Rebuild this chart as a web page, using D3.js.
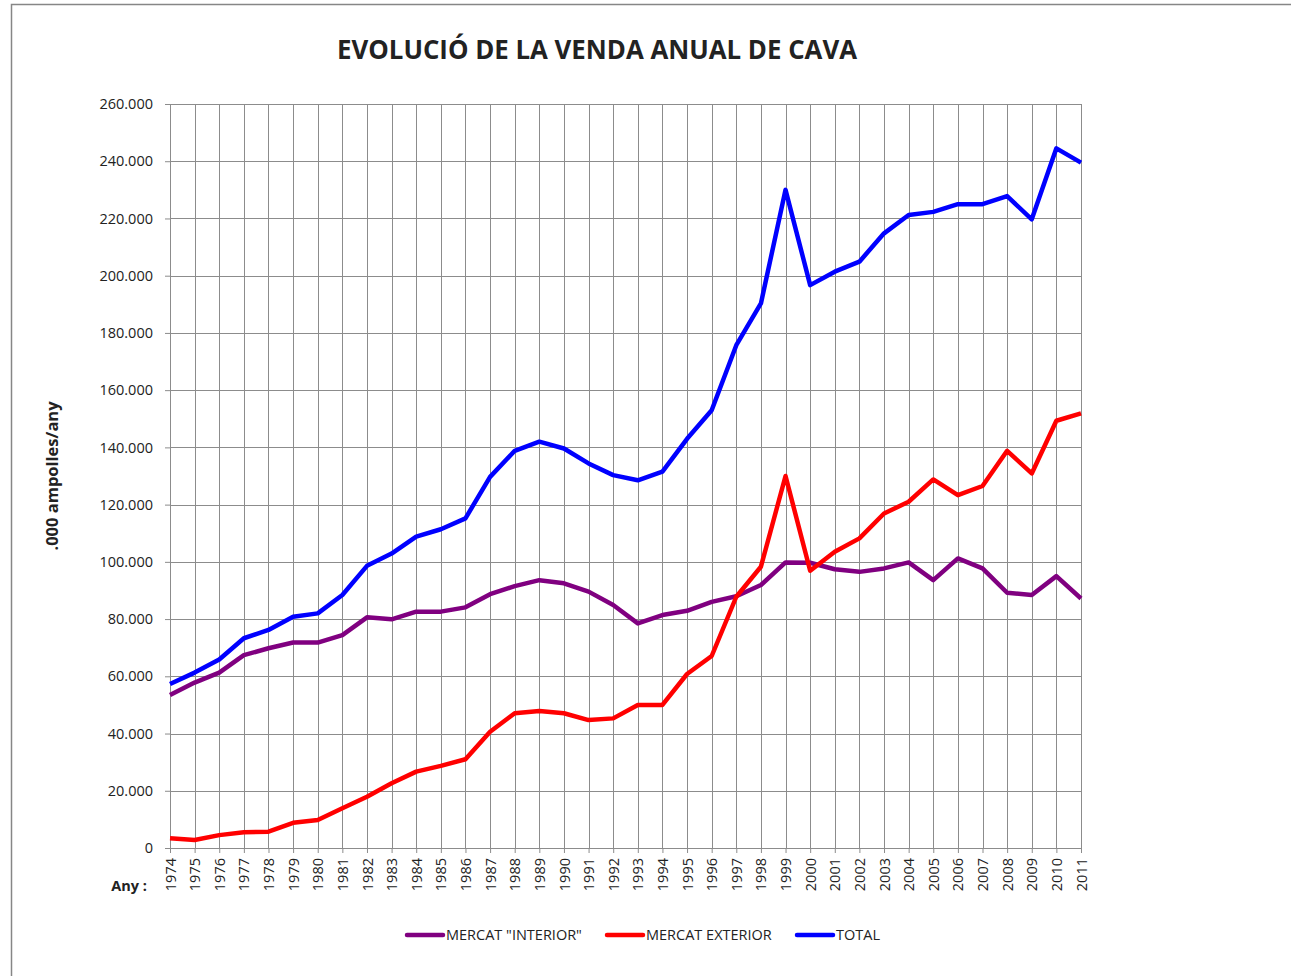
<!doctype html>
<html lang="ca">
<head>
<meta charset="utf-8">
<title>Evolució de la venda anual de cava</title>
<script src="https://d3js.org/d3.v7.min.js"></script>
<style>
  body { margin: 0; background: #fff; }
  svg text { font-family: "Open Sans", "Liberation Sans", sans-serif; fill: #222; }
</style>
</head>
<body>
<div id="chart"></div>
<script>
// data, in bottles (.000 ampolles/any)
var years = d3.range(1974, 2012);
var interior = [53500, 57800, 61300, 67400, 69800, 71800, 71800, 74400, 80600, 79900,
  82600, 82600, 84100, 88700, 91500, 93600, 92500, 89600, 84900, 78500,
  81400, 82900, 86000, 88000, 91900, 99800, 99700, 97400, 96500, 97700,
  99800, 93600, 101200, 97700, 89200, 88400, 95000, 87200];
var exterior = [3400, 2800, 4500, 5500, 5700, 8800, 9800, 13900, 17900, 22600,
  26700, 28700, 31000, 40600, 47100, 47900, 47100, 44700, 45300, 50000,
  50000, 60800, 67100, 87800, 98300, 130000, 96900, 103500, 108200, 116900,
  121000, 128800, 123300, 126500, 138800, 130900, 149300, 151900];
var total = [57300, 61300, 65900, 73300, 76200, 80800, 82000, 88400, 98600, 102900,
  108800, 111400, 115200, 129700, 138800, 142000, 139600, 134400, 130300, 128500,
  131500, 143000, 153000, 175700, 190300, 230000, 196700, 201400, 204900, 214800,
  221200, 222300, 225000, 225000, 227800, 219700, 244500, 239500];
var yTicks = d3.range(0, 260001, 20000);

var series = [
  {name: 'MERCAT "INTERIOR"', values: interior, color: "#800080"},
  {name: "MERCAT EXTERIOR", values: exterior, color: "#ff0000"},
  {name: "TOTAL", values: total, color: "#0000ff"}
];

var width = 1291, height = 976;
var svg = d3.select("#chart").append("svg")
  .attr("width", width)
  .attr("height", height);

// chart frame
svg.append("rect")
  .attr("x", 11.5).attr("y", 4.5)
  .attr("width", 1300).attr("height", 1000)
  .attr("fill", "#fff")
  .attr("stroke", "#868686")
  .attr("stroke-width", 1.5);

var plotL = 170, plotR = 1081, plotT = 104, plotB = 848;

var x = d3.scalePoint().domain(years).range([plotL, plotR]);
var y = d3.scaleLinear().domain([0, 260000]).range([plotB, plotT]);

// gridlines
svg.append("g")
  .selectAll("line")
  .data(yTicks)
  .enter().append("line")
  .attr("x1", plotL).attr("x2", plotR)
  .attr("y1", function(d){ return Math.round(y(d)) + 0.5; })
  .attr("y2", function(d){ return Math.round(y(d)) + 0.5; })
  .attr("stroke", "#8c8c8c");

svg.append("g")
  .selectAll("line")
  .data(years)
  .enter().append("line")
  .attr("x1", function(d){ return Math.round(x(d)) + 0.5; })
  .attr("x2", function(d){ return Math.round(x(d)) + 0.5; })
  .attr("y1", plotT).attr("y2", plotB)
  .attr("stroke", "#8c8c8c");

// y axis
var fmt = function(d){ return d === 0 ? "0" : d3.format(",")(d).replace(/,/g, "."); };
var yAxis = svg.append("g")
  .attr("transform", "translate(" + plotL + ",0)")
  .call(d3.axisLeft(y).tickValues(yTicks).tickFormat(fmt).tickSize(5).tickPadding(12));
yAxis.select(".domain").attr("stroke", "#8c8c8c");
yAxis.selectAll(".tick line").attr("stroke", "#8c8c8c");
yAxis.selectAll("text").style("font-size", "14.5px").attr("fill", "#222");

// x axis
var xAxis = svg.append("g")
  .attr("transform", "translate(0," + plotB + ")")
  .call(d3.axisBottom(x).tickSize(5).tickFormat(d3.format("d")));
xAxis.select(".domain").attr("stroke", "#8c8c8c");
xAxis.selectAll(".tick line").attr("stroke", "#8c8c8c");
xAxis.selectAll("text")
  .style("font-size", "14.5px")
  .attr("fill", "#222")
  .attr("transform", "rotate(-90)")
  .attr("text-anchor", "end")
  .attr("x", -10)
  .attr("y", 0)
  .attr("dy", "0.35em");

svg.append("text")
  .attr("x", 147).attr("y", 891)
  .attr("text-anchor", "end")
  .style("font-size", "14.5px")
  .style("font-weight", "bold")
  .text("Any :");

// lines
var line = d3.line()
  .x(function(d, i){ return x(years[i]); })
  .y(function(d){ return y(d); });

svg.append("g")
  .selectAll("path")
  .data(series)
  .enter().append("path")
  .attr("d", function(s){ return line(s.values); })
  .attr("fill", "none")
  .attr("stroke", function(s){ return s.color; })
  .attr("stroke-width", 4.5)
  .attr("stroke-linejoin", "round");

// title
svg.append("text")
  .attr("x", 597).attr("y", 59)
  .attr("text-anchor", "middle")
  .style("font-size", "26px")
  .style("font-weight", "bold")
  .attr("fill", "#000")
  .attr("textLength", 520)
  .attr("lengthAdjust", "spacingAndGlyphs")
  .text("EVOLUCIÓ DE LA VENDA ANUAL DE CAVA");

// y title
svg.append("text")
  .attr("transform", "translate(58,476) rotate(-90)")
  .attr("text-anchor", "middle")
  .style("font-size", "16.5px")
  .style("font-weight", "bold")
  .attr("fill", "#000")
  .text(".000 ampolles/any");

// legend
var legendX = [407, 607, 797];
var lg = svg.append("g")
  .selectAll("g")
  .data(series)
  .enter().append("g")
  .attr("transform", function(s, i){ return "translate(" + legendX[i] + ",935)"; });
lg.append("line")
  .attr("x1", 0).attr("x2", 36)
  .attr("stroke", function(s){ return s.color; })
  .attr("stroke-width", 4.5)
  .attr("stroke-linecap", "round");
lg.append("text")
  .attr("x", 39).attr("dy", "0.35em")
  .style("font-size", "14.5px")
  .text(function(s){ return s.name; });
</script>
</body>
</html>
